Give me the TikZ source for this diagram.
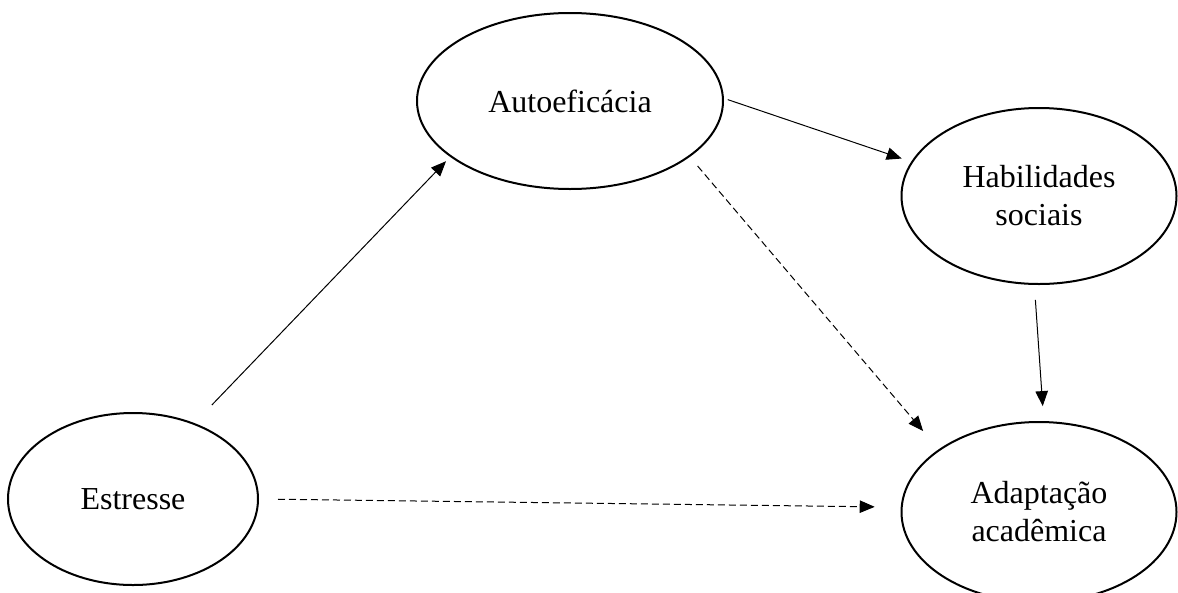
\documentclass[tikz,border=0pt]{standalone}
\usepackage{fontspec}
\setmainfont{Liberation Serif}
\usetikzlibrary{arrows.meta,shapes.geometric}
\begin{document}
\begin{tikzpicture}[x=1pt,y=-1pt,
  var/.style={draw, ellipse, line width=2pt, inner sep=0pt, align=center,
    font=\fontsize{32}{38}\selectfont},
  link/.style={line width=1pt, -{Triangle[length=15pt,width=12.5pt]}},
  dlink/.style={link, dash pattern=on 7pt off 4pt}]
\clip (0,0) rectangle (1178,592);
\useasboundingbox (0,0) rectangle (1178,592);
\node[var, minimum width=250pt, minimum height=172pt] (E) at (133,499) {Estresse};
\node[var, minimum width=306pt, minimum height=176pt] (A) at (570,101) {Autoeficácia};
\node[var, minimum width=275pt, minimum height=176pt] (H) at (1039,196) {Habilidades\\sociais};
\node[var, minimum width=275pt, minimum height=180pt] (D) at (1039,512) {Adaptação\\acadêmica};
\draw[link, shorten <=25pt, shorten >=6pt] (E.51.7) -- (A.205.6);
\draw[link, shorten <=4pt, shorten >=10pt] (A.1) -- (H.165.8);
\draw[dlink, shorten <=12pt, shorten >=24pt] (A.-25.8) -- (D.148.8);
\draw[link, shorten <=15pt, shorten >=15pt] (H.-93.5) -- (D.87.8);
\draw[dlink, shorten <=19pt, shorten >=26pt] (E.0) -- (D.178.6);
\end{tikzpicture}
\end{document}
